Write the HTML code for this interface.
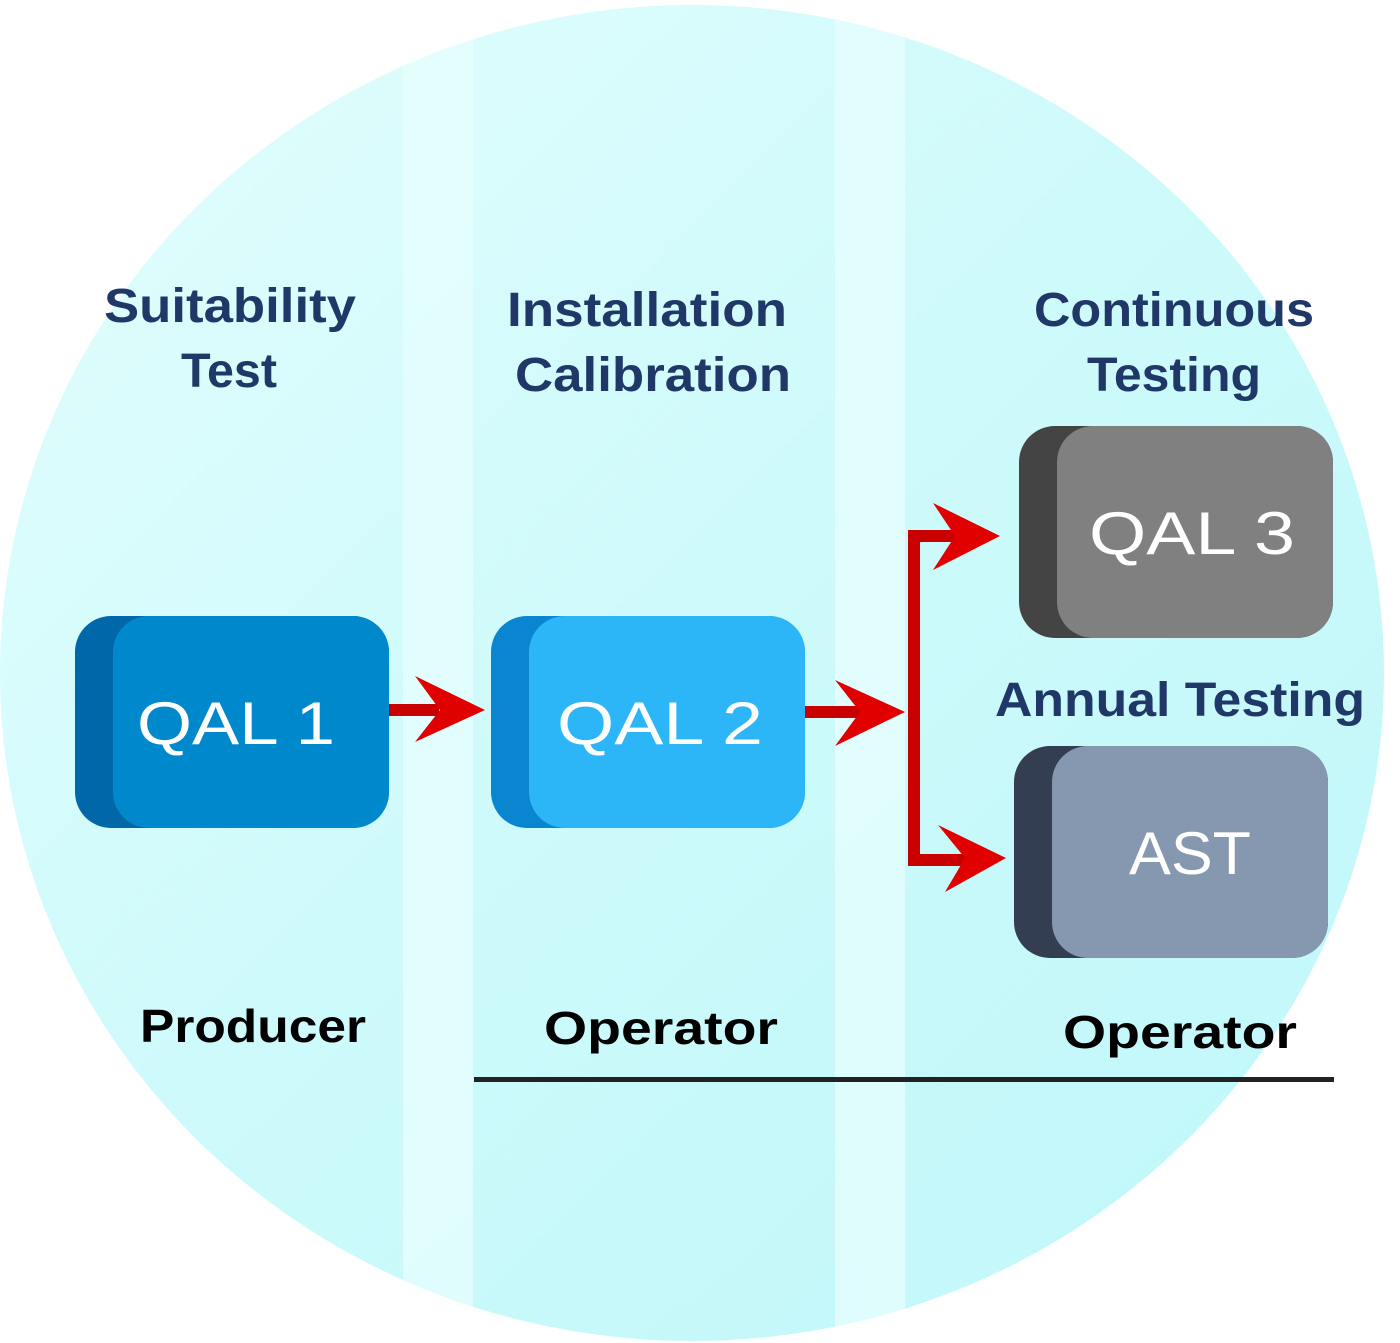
<!DOCTYPE html>
<html><head><style>
html,body{margin:0;padding:0;background:#fff;}
svg{display:block;}
</style></head><body>
<svg width="1400" height="1343" viewBox="0 0 1400 1343" xmlns="http://www.w3.org/2000/svg">
<defs>
<linearGradient id="bg" x1="0" y1="0" x2="1" y2="1">
<stop offset="0" stop-color="#e4fdfd"/>
<stop offset="0.5" stop-color="#cdfafb"/>
<stop offset="1" stop-color="#bff7f9"/>
</linearGradient>
<clipPath id="c"><ellipse cx="692" cy="673" rx="692" ry="668"/></clipPath>
</defs>
<ellipse cx="692" cy="673" rx="692" ry="668" fill="url(#bg)"/>
<g clip-path="url(#c)">
<rect x="403" y="0" width="70" height="1343" fill="#e6fefe" opacity="0.8"/>
<rect x="835" y="0" width="70" height="1343" fill="#e6fefe" opacity="0.8"/>
</g>
<g font-family="Liberation Sans, sans-serif" font-weight="bold" fill="#203868" font-size="48" text-anchor="middle">
<text x="230" y="322" textLength="252" lengthAdjust="spacingAndGlyphs">Suitability</text>
<text x="229" y="387" textLength="96" lengthAdjust="spacingAndGlyphs">Test</text>
<text x="647" y="326" textLength="280" lengthAdjust="spacingAndGlyphs">Installation</text>
<text x="653" y="391" textLength="276" lengthAdjust="spacingAndGlyphs">Calibration</text>
<text x="1174" y="326" textLength="280" lengthAdjust="spacingAndGlyphs">Continuous</text>
<text x="1174" y="391" textLength="174" lengthAdjust="spacingAndGlyphs">Testing</text>
<text x="1180" y="716" textLength="370" lengthAdjust="spacingAndGlyphs">Annual Testing</text>
</g>
<g font-family="Liberation Sans, sans-serif" font-weight="bold" fill="#000" font-size="46" text-anchor="middle">
<text x="253" y="1042" textLength="226" lengthAdjust="spacingAndGlyphs">Producer</text>
<text x="661" y="1044" textLength="234" lengthAdjust="spacingAndGlyphs">Operator</text>
<text x="1180" y="1048" textLength="234" lengthAdjust="spacingAndGlyphs">Operator</text>
</g>
<rect x="474" y="1077" width="860" height="5" fill="#222"/>
<!-- boxes -->
<rect x="75" y="616" width="314" height="212" rx="36" fill="#0068a8"/>
<rect x="113" y="616" width="276" height="212" rx="36" fill="#0088cc"/>
<rect x="491" y="616" width="314" height="212" rx="36" fill="#0a86d0"/>
<rect x="529" y="616" width="276" height="212" rx="36" fill="#2cb6f8"/>
<rect x="1019" y="426" width="314" height="212" rx="36" fill="#444444"/>
<rect x="1057" y="426" width="276" height="212" rx="36" fill="#808080"/>
<rect x="1014" y="746" width="314" height="212" rx="36" fill="#343e52"/>
<rect x="1052" y="746" width="276" height="212" rx="36" fill="#8698b0"/>
<g font-family="Liberation Sans, sans-serif" fill="#fff" font-size="60" text-anchor="middle">
<text x="236" y="744" textLength="198" lengthAdjust="spacingAndGlyphs">QAL 1</text>
<text x="660" y="744" textLength="206" lengthAdjust="spacingAndGlyphs">QAL 2</text>
<text x="1192" y="554" textLength="206" lengthAdjust="spacingAndGlyphs">QAL 3</text>
<text x="1190" y="874" textLength="122" lengthAdjust="spacingAndGlyphs">AST</text>
</g>
<!-- arrows -->
<g fill="#c80000">
<rect x="389" y="704" width="50" height="12"/>
<rect x="805" y="706" width="60" height="12"/>
<rect x="908" y="530" width="12" height="336"/>
<rect x="908" y="530" width="60" height="12"/>
<rect x="908" y="854" width="60" height="12"/>
</g>
<g fill="#e00000">
<polygon points="415,676 485,710 415,742 440,710"/>
<polygon points="835,680 905,712 835,746 860,712"/>
<polygon points="933,503 1000,536 933,570 955,536"/>
<polygon points="938,825 1006,858 945,892 965,858"/>
</g>
</svg>
</body></html>
